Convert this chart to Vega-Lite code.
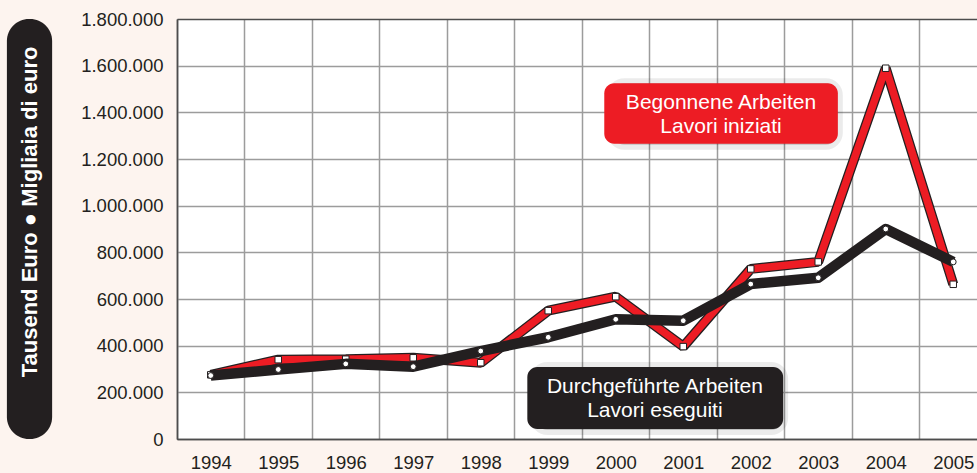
{
  "$schema": "https://vega.github.io/schema/vega-lite/v6.json",
  "width": 800,
  "height": 420,
  "autosize": {"type": "none"},
  "padding": {"left": 177, "top": 19, "right": 0, "bottom": 34},
  "background": "#FDF4EF",
  "config": {
    "view": {"fill": "white", "stroke": null},
    "font": "Liberation Sans",
    "locale": {"number": {"decimal": ",", "thousands": ".", "grouping": [3], "currency": ["", " €"]}}
  },
  "datasets": {
    "series": [
      {"year": 1994, "iniziati": 275000, "eseguiti": 272000},
      {"year": 1995, "iniziati": 340000, "eseguiti": 298000},
      {"year": 1996, "iniziati": 342000, "eseguiti": 322000},
      {"year": 1997, "iniziati": 348000, "eseguiti": 310000},
      {"year": 1998, "iniziati": 327000, "eseguiti": 377000},
      {"year": 1999, "iniziati": 550000, "eseguiti": 436000},
      {"year": 2000, "iniziati": 610000, "eseguiti": 513000},
      {"year": 2001, "iniziati": 396000, "eseguiti": 507000},
      {"year": 2002, "iniziati": 729000, "eseguiti": 664000},
      {"year": 2003, "iniziati": 759000, "eseguiti": 691000},
      {"year": 2004, "iniziati": 1589000, "eseguiti": 900000},
      {"year": 2005, "iniziati": 663000, "eseguiti": 759000}
    ],
    "boxes": [
      {"series": "iniziati", "text": "Begonnene Arbeiten\nLavori iniziati", "x0": 1999.83, "x1": 2003.29, "y0": 1265000, "y1": 1525000, "xm": 2001.56, "ym": 1395000},
      {"series": "eseguiti", "text": "Durchgeführte Arbeiten\nLavori eseguiti", "x0": 1998.69, "x1": 2002.48, "y0": 43000, "y1": 309000, "xm": 2000.58, "ym": 176000}
    ],
    "ytitle": [
      {"text": "Tausend Euro ● Migliaia di euro", "x0": 1990.98, "x1": 1991.65, "y0": 0, "y1": 1800000, "xm": 1991.315, "ym": 973000}
    ]
  },
  "layer": [
    {
      "data": {"name": "series"},
      "mark": {"type": "line", "stroke": "#231F20", "strokeWidth": 10, "strokeJoin": "bevel"},
      "encoding": {
        "x": {
          "field": "year", "type": "quantitative", "title": null,
          "scale": {"domain": [1993.5, 2005.352], "nice": false, "zero": false},
          "axis": {
            "title": null,
            "values": [1993.5, 1994.5, 1995.5, 1996.5, 1997.5, 1998.5, 1999.5, 2000.5, 2001.5, 2002.5, 2003.5, 2004.5],
            "labelExpr": "format(datum.value + 0.5, 'd')",
            "labelOffset": 33.75,
            "labelFontSize": 18.5,
            "labelColor": "#231F20",
            "labelPadding": 14,
            "labelOverlap": false,
            "labelFlush": false,
            "labelBound": false,
            "ticks": false,
            "domainColor": "#4d4d4d",
            "domainWidth": 1.5,
            "grid": true,
            "gridColor": {"condition": {"test": "datum.value === 1993.5", "value": "#4d4d4d"}, "value": "#9c9c9c"},
            "gridWidth": 1.5
          }
        },
        "y": {
          "field": "iniziati", "type": "quantitative", "title": null,
          "scale": {"domain": [0, 1800000], "nice": false},
          "axis": {
            "title": null,
            "values": [0, 200000, 400000, 600000, 800000, 1000000, 1200000, 1400000, 1600000, 1800000],
            "format": ",d",
            "labelFontSize": 18.5,
            "labelColor": "#231F20",
            "labelPadding": 14,
            "ticks": false,
            "domainColor": "#4d4d4d",
            "domainWidth": 1.5,
            "grid": true,
            "gridColor": {"condition": {"test": "datum.value === 1800000 || datum.value === 0", "value": "#4d4d4d"}, "value": "#9c9c9c"},
            "gridWidth": 1.5
          }
        }
      }
    },
    {
      "data": {"name": "series"},
      "mark": {"type": "line", "stroke": "#ED1C24", "strokeWidth": 7.5, "strokeJoin": "bevel"},
      "encoding": {
        "x": {"field": "year", "type": "quantitative", "title": null},
        "y": {"field": "iniziati", "type": "quantitative", "title": null}
      }
    },
    {
      "data": {"name": "series"},
      "mark": {"type": "point", "shape": "square", "filled": true, "fill": "white", "stroke": "#231F20", "strokeWidth": 1, "size": 42, "opacity": 1},
      "encoding": {
        "x": {"field": "year", "type": "quantitative", "title": null},
        "y": {"field": "iniziati", "type": "quantitative", "title": null}
      }
    },
    {
      "data": {"name": "series"},
      "mark": {"type": "line", "stroke": "#231F20", "strokeWidth": 10.5, "strokeJoin": "round"},
      "encoding": {
        "x": {"field": "year", "type": "quantitative", "title": null},
        "y": {"field": "eseguiti", "type": "quantitative", "title": null}
      }
    },
    {
      "data": {"name": "series"},
      "mark": {"type": "point", "shape": "circle", "filled": true, "fill": "white", "stroke": "#231F20", "strokeWidth": 1, "size": 34, "opacity": 1},
      "encoding": {
        "x": {"field": "year", "type": "quantitative", "title": null},
        "y": {"field": "eseguiti", "type": "quantitative", "title": null}
      }
    },
    {
      "data": {"name": "boxes"},
      "mark": {"type": "rect", "fill": "#000000", "fillOpacity": 0.18, "stroke": "#000000", "strokeWidth": 10, "strokeOpacity": 0.08, "cornerRadius": 12, "xOffset": 8, "yOffset": 1},
      "encoding": {
        "x": {"field": "x0", "type": "quantitative", "title": null},
        "x2": {"field": "x1"},
        "y": {"field": "y0", "type": "quantitative", "title": null},
        "y2": {"field": "y1"}
      }
    },
    {
      "data": {"name": "boxes"},
      "mark": {"type": "rect", "cornerRadius": 10},
      "encoding": {
        "x": {"field": "x0", "type": "quantitative", "title": null},
        "x2": {"field": "x1"},
        "y": {"field": "y0", "type": "quantitative", "title": null},
        "y2": {"field": "y1"},
        "fill": {"field": "series", "type": "nominal", "scale": {"domain": ["iniziati", "eseguiti"], "range": ["#ED1C24", "#231F20"]}, "legend": null}
      }
    },
    {
      "data": {"name": "boxes"},
      "mark": {"type": "text", "color": "white", "fontSize": 21, "lineBreak": "\n", "lineHeight": 24, "align": "center", "baseline": "middle", "dy": -11},
      "encoding": {
        "x": {"field": "xm", "type": "quantitative", "title": null},
        "y": {"field": "ym", "type": "quantitative", "title": null},
        "text": {"field": "text"}
      }
    },
    {
      "data": {"name": "ytitle"},
      "mark": {"type": "rect", "fill": "#231F20", "cornerRadius": 22},
      "encoding": {
        "x": {"field": "x0", "type": "quantitative", "title": null},
        "x2": {"field": "x1"},
        "y": {"field": "y0", "type": "quantitative", "title": null},
        "y2": {"field": "y1"}
      }
    },
    {
      "data": {"name": "ytitle"},
      "mark": {"type": "text", "color": "white", "fontSize": 22, "fontWeight": "bold", "angle": 270, "align": "center", "baseline": "middle"},
      "encoding": {
        "x": {"field": "xm", "type": "quantitative", "title": null},
        "y": {"field": "ym", "type": "quantitative", "title": null},
        "text": {"field": "text"}
      }
    }
  ]
}
